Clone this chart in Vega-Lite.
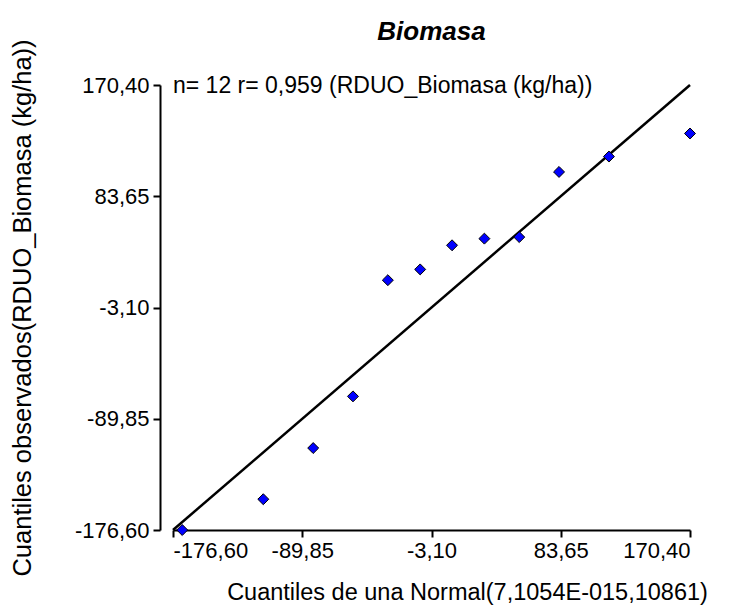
{
  "$schema": "https://vega.github.io/schema/vega-lite/v6.json",
  "width": 517,
  "height": 445,
  "autosize": {"type": "none"},
  "padding": {"left": 173, "top": 85, "right": 39, "bottom": 82},
  "background": "white",
  "title": {
    "text": "Biomasa",
    "font": "Liberation Sans",
    "fontSize": 26,
    "fontStyle": "italic",
    "fontWeight": "bold",
    "color": "black",
    "offset": -6,
    "anchor": "middle"
  },
  "config": {
    "view": {"stroke": null},
    "axis": {
      "grid": false,
      "domainColor": "black",
      "domainWidth": 2,
      "tickColor": "black",
      "tickWidth": 2,
      "tickSize": 7,
      "labelFont": "Liberation Sans",
      "labelFontSize": 22,
      "labelColor": "black",
      "titleFont": "Liberation Sans",
      "titleFontSize": 23.5,
      "titleFontWeight": "normal",
      "titleColor": "black"
    }
  },
  "datasets": {
    "pts": [
      {"teorico": -170.4, "observado": -176.6},
      {"teorico": -116.0, "observado": -152.6},
      {"teorico": -82.5, "observado": -112.7},
      {"teorico": -55.8, "observado": -72.4},
      {"teorico": -32.4, "observado": 18.2},
      {"teorico": -10.7, "observado": 26.6},
      {"teorico": 10.7, "observado": 45.4},
      {"teorico": 32.4, "observado": 50.6},
      {"teorico": 55.8, "observado": 51.8},
      {"teorico": 82.5, "observado": 102.6},
      {"teorico": 116.0, "observado": 114.6},
      {"teorico": 170.4, "observado": 132.6}
    ],
    "recta": [
      {"teorico": -176.6, "observado": -176.6},
      {"teorico": 170.4, "observado": 170.4}
    ],
    "nota": [
      {"teorico": -176.6, "observado": 170.4, "texto": "n= 12 r= 0,959 (RDUO_Biomasa (kg/ha))"}
    ]
  },
  "layer": [
    {
      "data": {"name": "recta"},
      "mark": {"type": "line", "color": "black", "strokeWidth": 2.5, "clip": false},
      "encoding": {
        "x": {
          "field": "teorico", "type": "quantitative",
          "scale": {"domain": [-176.6, 170.4], "nice": false, "zero": false},
          "axis": {
            "values": [-176.6, -89.85, -3.1, 83.65, 170.4],
            "labelExpr": "replace(replace(format(datum.value, '.2f'), '.', ','), '\u2212', '-')",
            "title": "Cuantiles de una Normal(7,1054E-015,10861)",
            "titlePadding": 19,
            "titleX": 294,
            "labelPadding": 3
          }
        },
        "y": {
          "field": "observado", "type": "quantitative",
          "scale": {"domain": [-176.6, 170.4], "nice": false, "zero": false},
          "axis": {
            "values": [-176.6, -89.85, -3.1, 83.65, 170.4],
            "labelExpr": "replace(replace(format(datum.value, '.2f'), '.', ','), '\u2212', '-')",
            "title": "Cuantiles observados(RDUO_Biomasa (kg/ha))",
            "titleFontSize": 25.5,
            "offset": 13,
            "titlePadding": 39,
            "labelPadding": 4
          }
        }
      }
    },
    {
      "data": {"name": "pts"},
      "mark": {"type": "point", "shape": "diamond", "filled": true, "color": "#0000ff", "stroke": "black", "strokeWidth": 1, "size": 120, "opacity": 1, "clip": false},
      "encoding": {
        "x": {"field": "teorico", "type": "quantitative"},
        "y": {"field": "observado", "type": "quantitative"}
      }
    },
    {
      "data": {"name": "nota"},
      "mark": {"type": "text", "align": "left", "baseline": "middle", "font": "Liberation Sans", "fontSize": 23, "color": "black", "dx": 0, "dy": 1},
      "encoding": {
        "x": {"field": "teorico", "type": "quantitative"},
        "y": {"field": "observado", "type": "quantitative"},
        "text": {"field": "texto"}
      }
    }
  ]
}
